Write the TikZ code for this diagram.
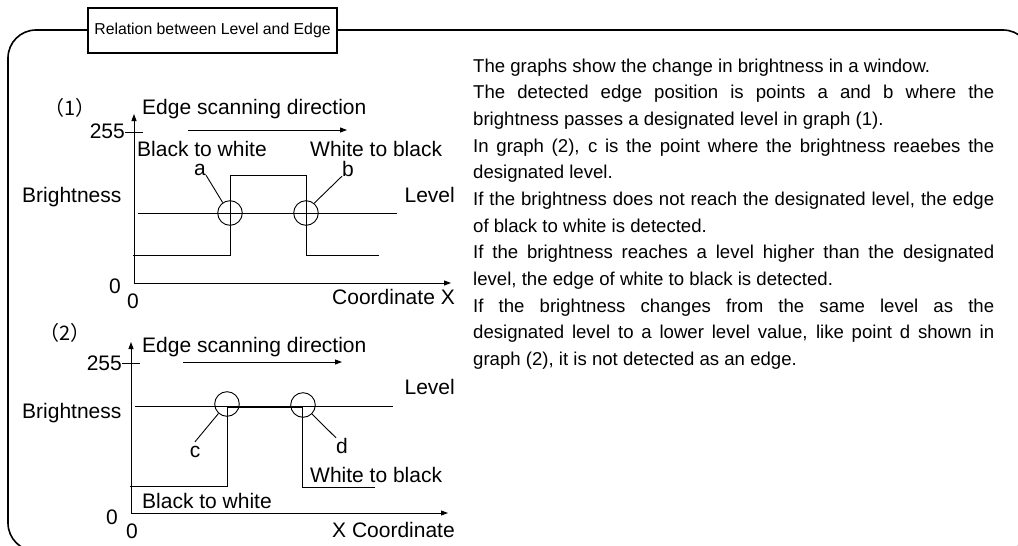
\documentclass[tikz,border=0pt]{standalone}
\usepackage{fontspec}
\setmainfont{Liberation Sans}
\newfontfamily\cjkfont{Noto Sans CJK JP}
\usetikzlibrary{arrows.meta}
\tikzset{
  frame/.style    = {line width=1.6pt,rounded corners=28pt},
  titlebox/.style = {draw,line width=1.2pt,fill=white,minimum width=249pt,
                     minimum height=45pt,inner sep=0pt,
                     font=\fontsize{15.8}{18}\selectfont},
  lbl/.style      = {inner sep=0pt,font=\fontsize{21}{24}\selectfont},
  leaf/.style     = {lbl,text height=15pt,text depth=0pt},
  tag/.style      = {inner sep=0pt,font=\cjkfont\fontsize{20}{24}\selectfont},
  axis/.style     = {-{Triangle[length=7pt,width=5pt]},line width=0.9pt},
  sig/.style      = {line width=0.9pt},
  ring/.style     = {circle,draw,line width=0.9pt,minimum size=24.6pt,
                     inner sep=0pt},
  body/.style     = {inner sep=0pt,text width=521pt,align=left,
                     font=\fontsize{18.6}{26.67}\selectfont,
                     execute at begin node={\spaceskip=0pt\xspaceskip=0pt}},
}
% one line spread over the full column
\newcommand{\jline}[1]{\makebox[521pt][s]{\spaceskip=0pt\xspaceskip=0pt #1}}

\begin{document}
\begin{tikzpicture}[x=1pt,y=-1pt]
  \useasboundingbox (0,0) rectangle (1018,546);
  % outer frame and heading
  \draw[frame] (8,30) rectangle (1031,551);
  \node[titlebox] (title) at (212.5,30.5) {Relation between Level and Edge};

  % graph (1)
  \node[tag] (n1) at (70,108) {（1）};
  \coordinate (o1) at (134,283);
  \draw[axis] (o1) -- (134,114);
  \draw[axis] (o1) -- (451,283);
  \draw[sig] (125,132) -- (143,132);
  \node[lbl,anchor=base east] (t1) at (125,138) {255};
  \node[lbl,anchor=base] (z1) at (115,293) {0};
  \node[lbl,anchor=base] (zx1) at (133,308) {0};
  \node[lbl,anchor=base east] (cx1) at (455,304) {Coordinate X};
  \node[lbl,anchor=base west] (e1) at (142,114) {Edge scanning direction};
  \draw[axis] (188,130) -- (347,130);
  \node[lbl,anchor=base west] (bw1) at (137,156) {Black to white};
  \node[lbl,anchor=base west] (wb1) at (310,156) {White to black};
  \node[lbl,anchor=base west] (br1) at (22,202) {Brightness};
  \node[lbl,anchor=base east] (lv1) at (455,202) {Level};
  \draw[sig] (133,255) -| (230,175) -| (306,255) -- (379,255);
  \draw[sig] (138,213) -- (397,213);
  \node[ring] (ca) at (230,213) {};
  \node[ring] (cb) at (306,213) {};
  \node[leaf,anchor=base] (la) at (200,175) {a};
  \node[leaf,anchor=base] (lb) at (348,176) {b};
  \draw[sig] (la.south east) -- (ca.125);
  \draw[sig] (lb.south west) -- (cb.50);

  % graph (2)
  \node[tag] (n2) at (65,333) {（2）};
  \coordinate (o2) at (131,513);
  \draw[axis] (o2) -- (131,342);
  \draw[axis] (o2) -- (448,513);
  \draw[sig] (122,363) -- (140,363);
  \node[lbl,anchor=base east] (t2) at (122,370) {255};
  \node[lbl,anchor=base] (z2) at (112,524) {0};
  \node[lbl,anchor=base] (zx2) at (132,538) {0};
  \node[lbl,anchor=base east] (cx2) at (455,537) {X Coordinate};
  \node[lbl,anchor=base west] (e2) at (142,352) {Edge scanning direction};
  \draw[axis] (183,362) -- (342,362);
  \node[lbl,anchor=base east] (lv2) at (455,394) {Level};
  \node[lbl,anchor=base west] (br2) at (22,418) {Brightness};
  \node[lbl,anchor=base west] (wb2) at (310,482) {White to black};
  \node[lbl,anchor=base west] (bw2) at (142,508) {Black to white};
  \draw[sig] (130,486) -| (227,407) -- (302,407) |- (375,487);
  \draw[sig] (135,406) -- (393,406);
  \node[ring] (cc) at (227,404) {};
  \node[ring] (cd) at (303,405) {};
  \node[leaf,anchor=base] (lc) at (195,457) {c};
  \node[leaf,anchor=base] (ld) at (342,453) {d};
  \draw[sig] (lc.north) -- (cc.228);
  \draw[sig] (ld.north west) -- (cd.315);

  % explanation
  \node[body,anchor=north west] (txt) at (473,58.4) {%
    The graphs show the change in brightness in a window.\\
    \jline{The detected edge position is points a and b where the}\\
    brightness passes a designated level in graph (1).\\
    \jline{In graph (2), c is the point where the brightness reaebes the}\\
    designated level.\\
    \jline{If the brightness does not reach the designated level, the edge}\\
    of black to white is detected.\\
    \jline{If the brightness reaches a level higher than the designated}\\
    level, the edge of white to black is detected.\\
    \jline{If the brightness changes from the same level as the}\\
    \jline{designated level to a lower level value, like point d shown in}\\
    graph (2), it is not detected as an edge.};
\end{tikzpicture}
\end{document}
